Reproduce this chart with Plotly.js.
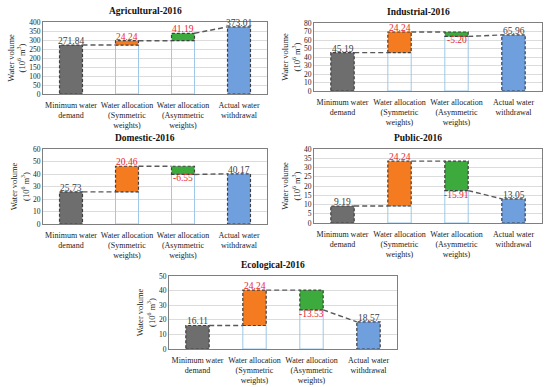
<!DOCTYPE html>
<html>
<head>
<meta charset="utf-8">
<script src="https://cdn.plot.ly/plotly-3.0.1.min.js"></script>
<style>html,body{margin:0;padding:0;background:#fff;}#chart{width:550px;height:387px;}</style>
</head>
<body>
<div id="chart"></div>
<script>
// ---- data ----
const categories = ["Minimum water<br>demand", "Water allocation<br>(Symmetric<br>weights)", "Water allocation<br>(Asymmetric<br>weights)", "Actual water<br>withdrawal"];
const panelTitles = ["Agricultural-2016", "Industrial-2016", "Domestic-2016", "Public-2016", "Ecological-2016"];
const minDemand = [271.84, 45.19, 25.73, 9.19, 16.11];
const symChange = [24.24, 24.24, 20.46, 24.24, 24.24];
const asymChange = [41.19, -5.20, -6.55, -15.91, -13.53];
const actualWithdrawal = [373.01, 65.96, 40.17, 13.05, 18.57];
const yMax = [400, 80, 60, 40, 50];
const yStep = [50, 10, 10, 5, 10];

// ---- layout geometry (pixels) ----
const W = 550, H = 387;
const boxes = [
  {l: 43, r: 267, t: 22, b: 94},
  {l: 314, r: 542, t: 23, b: 91},
  {l: 43, r: 267, t: 149, b: 224},
  {l: 314, r: 542, t: 149, b: 223},
  {l: 169, r: 397, t: 276, b: 349}
];
const FONT = "Liberation Serif";
const colGray = "#6e6e6e", colOrange = "#f47b20", colGreen = "#3daa3d", colBlue = "#6f9fdc";
const edge = "#404040", baseLine = "#9cc8e8";
const BW = 0.41;

const traces = [], shapes = [], annotations = [];
const layout = {
  width: W, height: H, margin: {l: 0, r: 0, t: 0, b: 0},
  paper_bgcolor: "#fff", plot_bgcolor: "#fff",
  showlegend: false, font: {family: FONT, color: "#222"},
  barmode: "overlay"
};

for (let p = 0; p < 5; p++) {
  const s = p === 0 ? "" : String(p + 1);
  const xa = "x" + s, ya = "y" + s;
  const bx = boxes[p];
  layout["xaxis" + s] = {
    domain: [bx.l / W, bx.r / W], anchor: ya,
    range: [-0.5, 3.5], tickvals: [0, 1, 2, 3], ticktext: categories, tickangle: 0, automargin: false,
    showline: true, mirror: true, linecolor: "#7f7f7f", linewidth: 1,
    showgrid: false, zeroline: false, ticks: "", ticklabelstandoff: 3,
    tickfont: {family: FONT, size: 8, color: "#222"}, fixedrange: true
  };
  layout["yaxis" + s] = {
    domain: [1 - bx.b / H, 1 - bx.t / H], anchor: xa, automargin: false,
    range: [0, yMax[p]], dtick: yStep[p], tick0: 0,
    showline: true, mirror: true, linecolor: "#7f7f7f", linewidth: 1,
    showgrid: true, gridcolor: "#dcdcdc", gridwidth: 1, zeroline: false, ticks: "",
    tickfont: {family: FONT, size: 7.5, color: "#222"},
    title: {text: "Water volume<br>(10<sup>6</sup> m<sup>3</sup>)", font: {family: FONT, size: 8.5, color: "#222"}, standoff: 2},
    fixedrange: true
  };

  const v0 = minDemand[p];
  const v1 = v0 + symChange[p];
  const v2 = v1 + asymChange[p];
  const v3 = actualWithdrawal[p];
  const floats = [
    {x: 1, lo: Math.min(v0, v1), hi: Math.max(v0, v1), d: symChange[p], color: colOrange},
    {x: 2, lo: Math.min(v1, v2), hi: Math.max(v1, v2), d: asymChange[p], color: colGreen}
  ];

  // hollow base bars
  traces.push({
    type: "bar", xaxis: xa, yaxis: ya, x: floats.map(f => f.x), y: floats.map(f => f.lo), base: [0, 0],
    width: BW, marker: {color: "rgba(255,255,255,0)", line: {color: baseLine, width: 1}}, hoverinfo: "skip"
  });
  // gray + blue total bars
  traces.push({
    type: "bar", xaxis: xa, yaxis: ya, x: [0], y: [v0], width: BW,
    marker: {color: colGray, line: {width: 0}}
  });
  traces.push({
    type: "bar", xaxis: xa, yaxis: ya, x: [3], y: [v3], width: BW,
    marker: {color: colBlue, line: {width: 0}}
  });
  // floating bars
  floats.forEach(f => {
    traces.push({
      type: "bar", xaxis: xa, yaxis: ya, x: [f.x], y: [f.hi - f.lo], base: [f.lo], width: BW,
      marker: {color: f.color, line: {width: 0}}
    });
  });

  // dashed borders
  const rects = [{x: 0, lo: 0, hi: v0}, floats[0], floats[1], {x: 3, lo: 0, hi: v3}];
  rects.forEach(r => {
    shapes.push({type: "rect", xref: xa, yref: ya, x0: r.x - BW / 2, x1: r.x + BW / 2, y0: r.lo, y1: r.hi,
      line: {color: edge, width: 1.2, dash: "3px,2px"}, fillcolor: "rgba(0,0,0,0)"});
  });
  // connectors
  const ends = [v0, v1, v2];
  const starts = [v0, v1, v3];
  for (let i = 0; i < 3; i++) {
    shapes.push({type: "line", xref: xa, yref: ya, x0: i + BW / 2, x1: i + 1 - BW / 2, y0: ends[i], y1: starts[i],
      line: {color: "#595959", width: 1.4, dash: "5px,3px"}});
  }

  // value labels
  annotations.push({xref: xa, yref: ya, x: 0, y: v0, text: v0.toFixed(2), showarrow: false, yanchor: "bottom",
    font: {family: FONT, size: 9.5, color: "#404040"}, yshift: -3});
  annotations.push({xref: xa, yref: ya, x: 3, y: v3, text: v3.toFixed(2), showarrow: false, yanchor: "bottom",
    font: {family: FONT, size: 9.5, color: "#404040"}, yshift: -3});
  floats.forEach(f => {
    const up = f.d >= 0;
    annotations.push({xref: xa, yref: ya, x: f.x, y: up ? f.hi : f.lo, text: f.d.toFixed(2), showarrow: false,
      yanchor: up ? "bottom" : "top", font: {family: FONT, size: 9.5, color: "#e8262a"}, yshift: up ? -3 : 3});
  });

  // panel title
  annotations.push({xref: "paper", yref: "paper", x: ((bx.l + bx.r) / 2 - 10) / W, y: 1 - (bx.t - 4) / H,
    text: "<b>" + panelTitles[p] + "</b>", showarrow: false, yanchor: "bottom", xanchor: "center",
    font: {family: FONT, size: 9.5, color: "#111"}});
}
layout.shapes = shapes;
layout.annotations = annotations;
Plotly.newPlot("chart", traces, layout, {displayModeBar: false, staticPlot: true});
</script>
</body>
</html>
